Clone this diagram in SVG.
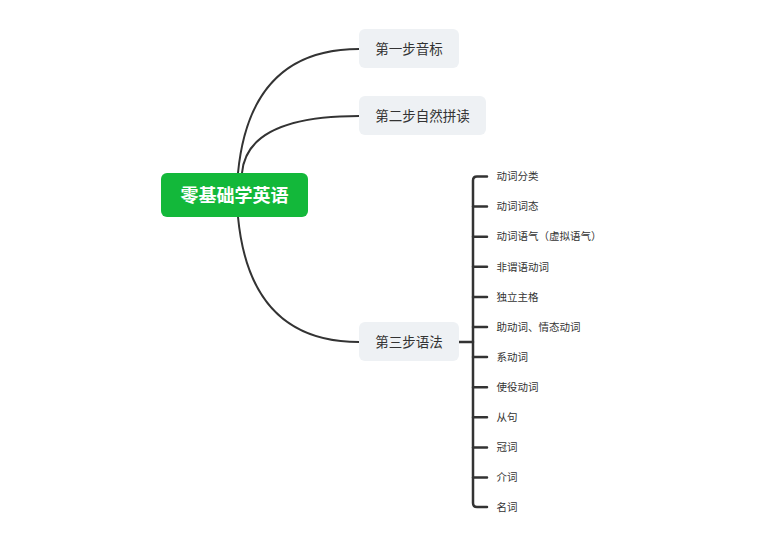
<svg xmlns="http://www.w3.org/2000/svg" width="771" height="552" viewBox="0 0 771 552">
<style>
.t{font-family:"Noto Sans CJK SC","Microsoft YaHei",sans-serif;fill:#333}
.n{fill:#eef1f4}
.c{fill:none;stroke:#333;stroke-width:2;stroke-linecap:round}
.b{fill:none;stroke:#333;stroke-width:2.5;stroke-linecap:round;stroke-linejoin:round}
.leaf{font-size:10.5px}
</style>
<rect width="771" height="552" fill="#fff"/>
<g id="connectors">
<path class="c" d="M238,173 Q250,49 359,49"/>
<path class="c" d="M242,173 Q247,116 359,116"/>
<path class="c" d="M238,217 Q250,342 359,342"/>
<path class="b" d="M459,342 H473"/>
<path class="b" d="M487,176.5 H477 Q473,176.5 473,180.5 V503 Q473,507 477,507 H487"/>
<path class="b" d="M473,206.6 H487 M473,236.7 H487 M473,266.8 H487 M473,296.9 H487 M473,327 H487 M473,357.1 H487 M473,387.2 H487 M473,417.3 H487 M473,447.4 H487 M473,477.5 H487"/>
</g>
<g id="root">
<rect x="161" y="173" width="147" height="44" rx="6" fill="#13b83a"/>
<text x="234.5" y="201.5" text-anchor="middle" font-family="'Noto Sans CJK SC',sans-serif" font-size="18" font-weight="bold" fill="#fff">零基础学英语</text>
</g>
<g id="step1">
<rect class="n" x="359" y="29" width="100" height="39" rx="6"/>
<text class="t" x="409" y="53.5" text-anchor="middle" font-size="13.5">第一步音标</text>
</g>
<g id="step2">
<rect class="n" x="359" y="96" width="127" height="39" rx="6"/>
<text class="t" x="422.5" y="120.5" text-anchor="middle" font-size="13.5">第二步自然拼读</text>
</g>
<g id="step3">
<rect class="n" x="359" y="322" width="100" height="39" rx="6"/>
<text class="t" x="409" y="346.5" text-anchor="middle" font-size="13.5">第三步语法</text>
</g>
<g id="leaves">
<text class="t leaf" x="496.5" y="180.2">动词分类</text>
<text class="t leaf" x="496.5" y="210.3">动词词态</text>
<text class="t leaf" x="496.5" y="240.4">动词语气（虚拟语气）</text>
<text class="t leaf" x="496.5" y="270.5">非谓语动词</text>
<text class="t leaf" x="496.5" y="300.6">独立主格</text>
<text class="t leaf" x="496.5" y="330.7">助动词、情态动词</text>
<text class="t leaf" x="496.5" y="360.8">系动词</text>
<text class="t leaf" x="496.5" y="390.9">使役动词</text>
<text class="t leaf" x="496.5" y="421">从句</text>
<text class="t leaf" x="496.5" y="451.1">冠词</text>
<text class="t leaf" x="496.5" y="481.2">介词</text>
<text class="t leaf" x="496.5" y="511.3">名词</text>
</g>
</svg>
